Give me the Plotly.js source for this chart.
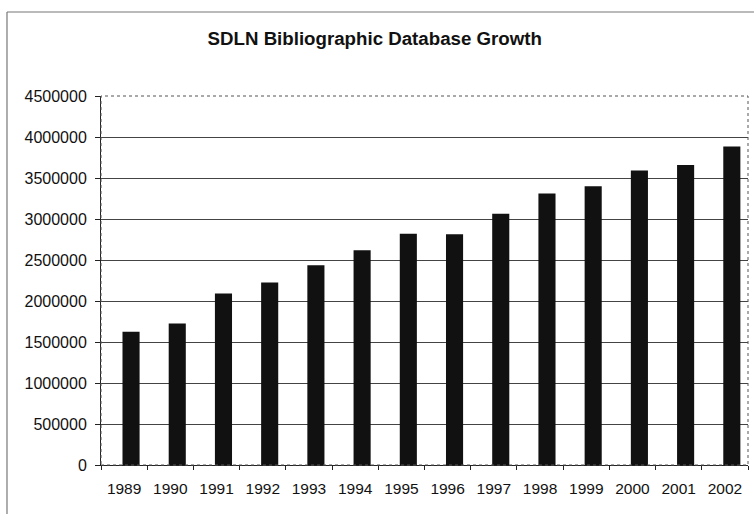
<!DOCTYPE html>
<html>
<head>
<meta charset="utf-8">
<script src="https://cdn.plot.ly/plotly-3.0.1.min.js"></script>
<style>
html,body{margin:0;padding:0;background:#fff;overflow:hidden;}
#chart{width:754px;height:514px;overflow:hidden;}
</style>
</head>
<body>
<div id="chart"></div>
<script>
const years = ["1989","1990","1991","1992","1993","1994","1995","1996","1997","1998","1999","2000","2001","2002"];
const records = [1625000,1725000,2090000,2225000,2435000,2620000,2820000,2815000,3065000,3310000,3400000,3590000,3660000,3885000];
const yTicks = [0,500000,1000000,1500000,2000000,2500000,3000000,3500000,4000000,4500000];
const chartTitle = "SDLN Bibliographic Database Growth";

const font = "Arial, 'Liberation Sans', sans-serif";

const trace = {
  type: "bar",
  x: years,
  y: records,
  width: 0.37,
  offset: -0.035,
  marker: {color: "#111111", line: {width: 0}},
  hoverinfo: "x+y"
};

const layout = {
  width: 754,
  height: 514,
  margin: {l: 101, r: 6, t: 96, b: 49},
  paper_bgcolor: "#ffffff",
  plot_bgcolor: "#ffffff",
  showlegend: false,
  title: {
    text: "<b>" + chartTitle + "</b>",
    font: {family: font, size: 18.7, color: "#111"},
    x: 0.497, xref: "container", xanchor: "center",
    y: 0.926, yref: "container", yanchor: "middle"
  },
  xaxis: {
    type: "category",
    tickson: "boundaries",
    ticks: "outside",
    ticklen: 4,
    tickcolor: "#222",
    showline: true,
    linecolor: "#222",
    linewidth: 1,
    showgrid: false,
    ticklabelstandoff: 9,
    tickfont: {family: font, size: 15.5, color: "#111"},
    fixedrange: true
  },
  yaxis: {
    range: [0, 4500000],
    tickvals: yTicks,
    ticktext: yTicks.map(v => String(v)),
    ticks: "outside",
    ticklen: 5,
    tickcolor: "#222",
    showline: true,
    linecolor: "#222",
    linewidth: 1,
    showgrid: true,
    gridcolor: "#444",
    gridwidth: 1,
    zeroline: false,
    ticklabelstandoff: 5,
    tickfont: {family: font, size: 16, color: "#111"},
    fixedrange: true
  },
  shapes: [
    {type: "rect", xref: "paper", yref: "paper", x0: 0, x1: 1, y0: 0, y1: 1,
     line: {color: "#555", width: 1, dash: "dot"}, fillcolor: "rgba(0,0,0,0)", layer: "above"},
    {type: "line", xref: "paper", yref: "paper", x0: -0.1453, x1: -0.1453, y0: -0.1328, y1: 1.2276,
     line: {color: "#777", width: 1.2}, layer: "below"},
    {type: "line", xref: "paper", yref: "paper", x0: -0.1453, x1: 1.0093, y0: 1.2276, y1: 1.2276,
     line: {color: "#777", width: 1.2}, layer: "below"}
  ]
};

Plotly.newPlot("chart", [trace], layout, {displayModeBar: false, staticPlot: true});
</script>
</body>
</html>
